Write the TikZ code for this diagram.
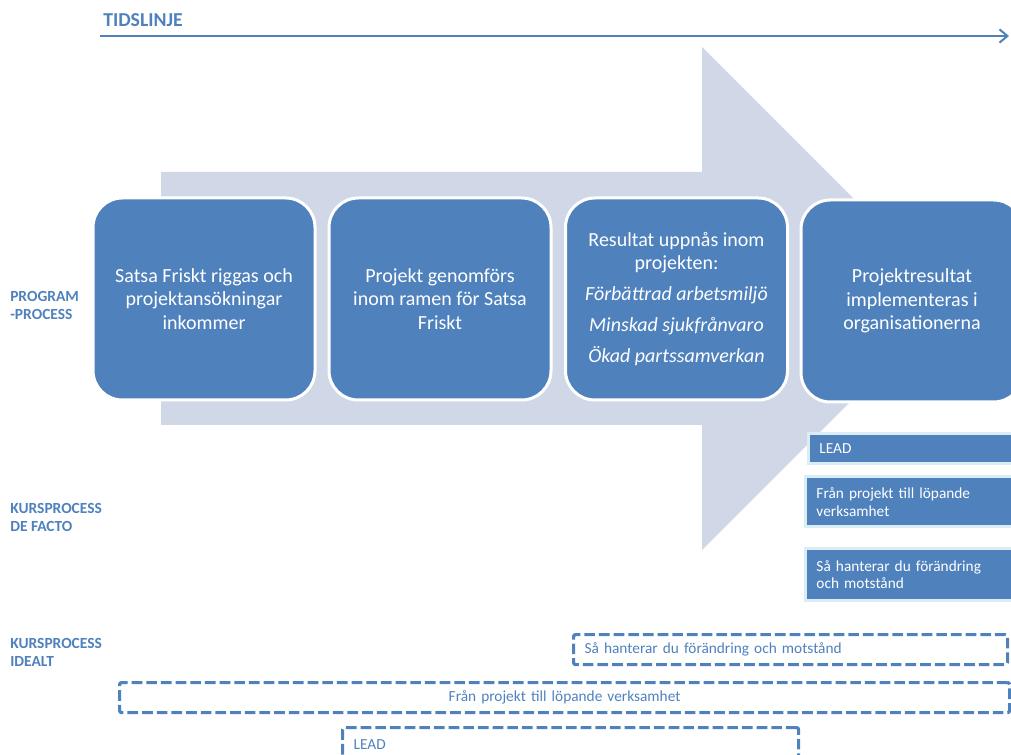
\documentclass[tikz,border=0pt]{standalone}
\usepackage{fontspec}
\setmainfont{Carlito}
\usetikzlibrary{arrows.meta}
\definecolor{accent}{RGB}{79,129,189}
\definecolor{arrowfill}{RGB}{208,216,232}
\definecolor{paleedge}{RGB}{218,236,244}
\begin{document}
\begin{tikzpicture}[x=0.75pt,y=-0.75pt,
  stage/.style={rectangle, rounded corners=22pt, fill=accent, draw=white,
    line width=2.25pt, minimum width=166.5pt, minimum height=151.5pt,
    text=white, align=center, inner sep=0pt,
    font=\fontsize{15}{17.6}\selectfont},
  rowlabel/.style={anchor=west, inner sep=0pt, align=left, text=accent,
    font=\bfseries\fontsize{11.6}{13.5}\selectfont},
  factbox/.style={rectangle, anchor=north west, fill=accent, draw=paleedge,
    line width=2.25pt, text=white, align=left, inner xsep=8.6pt, inner ysep=0pt,
    text width=200pt, font=\fontsize{11.5}{13}\selectfont},
  planbox/.style={rectangle, anchor=north west, draw=accent, line width=2.4pt,
    dash pattern=on 8pt off 3pt, rounded corners=1.5pt, text=accent,
    inner xsep=8.25pt, inner ysep=0pt, font=\fontsize{11.5}{13}\selectfont}
]
\useasboundingbox (0,0) rectangle (1011,755);
\clip (0,0) rectangle (1011,755);

% timeline
\node[anchor=west, inner sep=0pt, text=accent,
  font=\bfseries\fontsize{14.8}{16}\selectfont] (title) at (103,20) {TIDSLINJE};
\coordinate (tl0) at (100,36);
\coordinate (tl1) at (1009,36);
\draw[accent, line width=1.8pt, -{Straight Barb[length=6pt, width=10pt, line width=1.5pt]}] (tl0) -- (tl1);

% large background arrow
\fill[arrowfill] (161,172) -- (702,172) -- (702,47) -- (953.5,298.5)
  -- (702,550) -- (702,425) -- (161,425) -- cycle;

% programme stages
\node[stage] (s1) at (204,299) {Satsa Friskt riggas och\\projektansökningar\\inkommer};
\node[stage] (s2) at (440,299) {Projekt genomförs\\inom ramen för Satsa\\Friskt};
\node[stage] (s3) at (676.5,299) {Resultat uppnås inom\\projekten:\\[5.6pt]
  \textit{Förbättrad arbetsmiljö}\\[5.6pt]\textit{Minskad sjukfrånvaro}\\[5.6pt]
  \textit{Ökad partssamverkan}};
\node[stage] (s4) at (912,301) {Projektresultat\\implementeras i\\organisationerna};

% row labels
\node[rowlabel] (lprog) at (10,305) {PROGRAM\\-PROCESS};
\node[rowlabel] (lfact) at (10,517) {KURSPROCESS\\DE FACTO};
\node[rowlabel] (lideal) at (10,652) {KURSPROCESS\\IDEALT};

% courses as actually run
\node[factbox, minimum height=22.5pt] (f1) at (806.5,432.5) {LEAD};
\node[factbox, minimum height=37.5pt] (f2) at (803.5,475.5) {Från projekt till löpande\\verksamhet};
\node[factbox, minimum height=38.25pt] (f3) at (803.5,547.5) {Så hanterar du förändring\\och motstånd};

% courses as ideally planned
\node[planbox, text width=309pt, minimum height=22.5pt, align=left] (p1) at (572,633)
  {Så hanterar du förändring och motstånd};
\node[planbox, text width=651pt, minimum height=22.5pt, align=center] (p2) at (118,681)
  {Från projekt till löpande verksamhet};
\node[planbox, text width=325.5pt, minimum height=25.5pt, align=left] (p3) at (341,726)
  {LEAD};
\end{tikzpicture}
\end{document}
